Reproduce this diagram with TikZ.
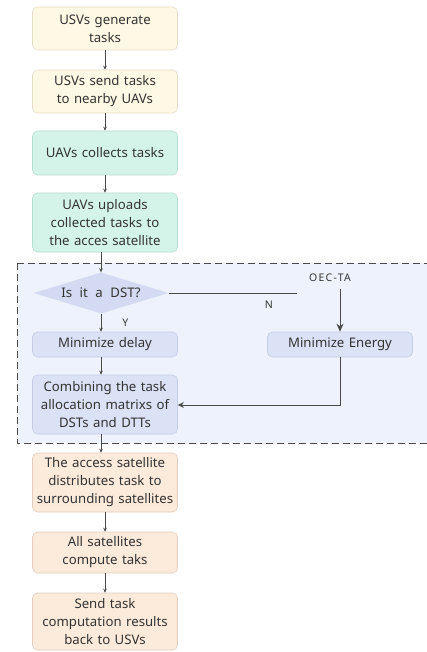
\documentclass[tikz,border=0pt]{standalone}
\usepackage{fontspec}
\setmainfont{Noto Sans}[WordSpace=2.2]
\newfontfamily\lblfont{Noto Sans}[LetterSpace=12]
\usetikzlibrary{arrows.meta,shapes.geometric}

\definecolor{txt}{HTML}{333333}
\definecolor{lineg}{HTML}{4A4A4A}
\definecolor{yelF}{HTML}{FFF8E4}
\definecolor{yelD}{HTML}{E6DEC6}
\definecolor{grnF}{HTML}{D4F4EA}
\definecolor{grnD}{HTML}{B6DDCF}
\definecolor{bluF}{HTML}{DCE2F6}
\definecolor{bluD}{HTML}{C5CDE6}
\definecolor{decF}{HTML}{D3DAF1}
\definecolor{orgF}{HTML}{FCEADB}
\definecolor{orgD}{HTML}{E4CDBE}
\definecolor{regF}{HTML}{EEF2FC}

\tikzset{
  box/.style={rectangle, rounded corners=5pt, minimum width=145pt, align=center,
    text width=145pt, inner sep=0pt, font=\fontsize{13.2}{18}\selectfont, text=txt, line width=0.6pt},
  yel/.style={box, fill=yelF, draw=yelD},
  grn/.style={box, fill=grnF, draw=grnD},
  blu/.style={box, fill=bluF, draw=bluD},
  org/.style={box, fill=orgF, draw=orgD},
  dec/.style={diamond, aspect=3.3, fill=decF, inner sep=0pt, minimum width=135pt, minimum height=41pt,
    font=\fontsize{13.2}{15}\selectfont, text=txt},
  lbl/.style={font=\lblfont\fontsize{10.5}{12}\selectfont, text=txt, inner sep=1pt},
  flow/.style={draw=lineg, line width=0.6pt, -{Stealth[length=4pt,width=3.6pt]}},
  bigflow/.style={draw=lineg, line width=1pt, -{Stealth[length=8pt,width=7pt]}},
  midflow/.style={draw=lineg, line width=0.9pt, -{Stealth[length=6pt,width=6pt]}},
}

\begin{document}
\begin{tikzpicture}[x=1pt,y=-1pt]
\useasboundingbox (0,0) rectangle (427,652);
\clip (0,0) rectangle (427,652);

% optimisation region
\draw[fill=regF, draw=lineg, dashed, dash pattern=on 7pt off 4pt, line width=0.8pt]
  (17,263) rectangle (440,443);

% main chain
\node[yel, minimum height=43pt] (gen) at (105,28.5) {USVs generate\\tasks};
\node[yel, minimum height=43pt] (send) at (105,91.5) {USVs send tasks\\to nearby UAVs};
\node[grn, minimum height=44pt] (coll) at (105,153) {UAVs collects tasks};
\node[grn, minimum height=59pt] (upl) at (105,222.5) {UAVs uploads\\collected tasks to\\the acces satellite};

\node[dec] (dst) at (101,293) {Is it a DST?};
\node[blu, minimum height=25pt] (mind) at (105,344.5) {Minimize delay};
\node[blu, minimum height=25pt] (mine) at (340,344.5) {Minimize Energy};
\node[blu, minimum height=59pt] (comb) at (105,404.5) {Combining the task\\allocation matrixs of\\DSTs and DTTs};

\node[org, minimum height=59pt] (dist) at (105,482.5) {The access satellite\\distributes task to\\surrounding satellites};
\node[org, minimum height=41pt] (comp) at (105,552.5) {All satellites\\compute taks};
\node[org, minimum height=57pt] (back) at (105,621.5) {Send task\\computation results\\back to USVs};

\node[lbl] (oec) at (330,278) {OEC-TA};
\coordinate (nend) at (297,293);
\coordinate (turn) at (340,405);

% connectors
\draw[flow] (gen) -- (send);
\draw[flow] (send) -- (coll);
\draw[flow] (coll) -- (upl);
\draw[flow] (upl.south -| dst.north) -- (dst.north);
\draw[flow] (dst.south) -- (dst.south |- mind.north) node[lbl, pos=0.5, right=20pt] {Y};
\draw[flow] (mind.south -| dst.south) -- (comb.north -| dst.south);
\draw[draw=lineg, line width=0.8pt] (dst.east) -- (nend) node[lbl, pos=0.78, below=7pt] {N};
\draw[bigflow] (oec.south -| mine.north) ++(0,6) -- (mine.north);
\draw[midflow] (mine.south) -- (turn) -- (comb.east |- turn);
\draw[flow] (comb.south -| dst.south) -- (dist.north -| dst.south);
\draw[flow] (dist) -- (comp);
\draw[flow] (comp) -- (back);
\end{tikzpicture}
\end{document}
